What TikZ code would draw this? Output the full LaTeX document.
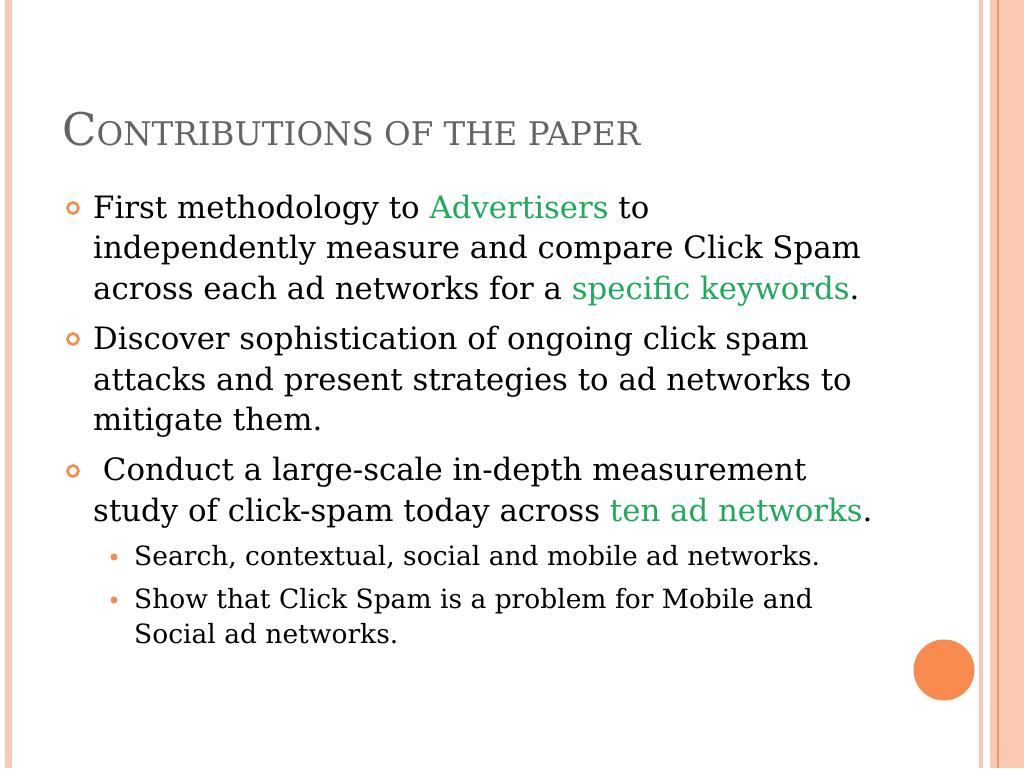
\documentclass[tikz,border=0pt]{standalone}
\usepackage{fontspec}
\setmainfont{DejaVu Serif}
\definecolor{peach}{RGB}{251,200,180}
\definecolor{peachd}{RGB}{240,150,110}
\definecolor{orng}{RGB}{248,140,80}
\definecolor{grn}{RGB}{30,170,90}
\definecolor{ttl}{RGB}{100,100,100}
\begin{document}
\begin{tikzpicture}[x=1pt,y=-1pt,
  body/.style={anchor=base west,inner sep=0,font=\fontsize{30.8}{36}\selectfont},
  sub/.style={anchor=base west,inner sep=0,font=\fontsize{26.5}{30}\selectfont},
  ring/.style={circle,draw=orng,line width=2.6pt,minimum size=11pt,inner sep=0},
  dot/.style={circle,fill=orng,minimum size=7pt,inner sep=0}]
\useasboundingbox (0,0) rectangle (1024,768);
\fill[white] (0,0) rectangle (1024,768);
\fill[peach] (5,0) rectangle (12,768);
\fill[peach] (979,0) rectangle (983,768);
\fill[peach] (990,0) rectangle (1024,768);
\fill[peachd] (997,0) rectangle (999,768);
\node[anchor=base west,inner sep=0,text=ttl,font=\fontsize{45}{50}\selectfont] (t) at (62,145) {C{\fontsize{32.5}{36}\selectfont ONTRIBUTIONS OF THE PAPER}};
\node[ring] (b1) at (73,208) {};
\node[ring] (b2) at (73,339) {};
\node[ring] (b3) at (73,471) {};
\node[body] (l1) at (93,218) {First methodology to \textcolor{grn}{Advertisers} to};
\node[body] (l2) at (93,258) {independently measure and compare Click Spam};
\node[body] (l3) at (93,299) {across each ad networks for a \textcolor{grn}{specific keywords}.};
\node[body] (l4) at (93,349) {Discover sophistication of ongoing click spam};
\node[body] (l5) at (93,390) {attacks and present strategies to ad networks to};
\node[body] (l6) at (93,430) {mitigate them.};
\node[body] (l7) at (93,480) {\ Conduct a large-scale in-depth measurement};
\node[body] (l8) at (93,521) {study of click-spam today across \textcolor{grn}{ten ad networks}.};
\node[dot] (s1) at (114,557) {};
\node[dot] (s2) at (114,600) {};
\node[sub] (m1) at (134,565) {Search, contextual, social and mobile ad networks.};
\node[sub] (m2) at (134,608) {Show that Click Spam is a problem for Mobile and};
\node[sub] (m3) at (134,643) {Social ad networks.};
\node[circle,fill=orng,minimum size=61pt,inner sep=0] (c) at (944,670) {};
\end{tikzpicture}
\end{document}
